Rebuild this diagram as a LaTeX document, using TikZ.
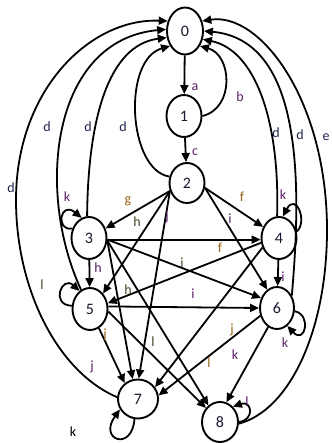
\documentclass[tikz,border=0pt]{standalone}
\usepackage{fontspec}
\setmainfont{Carlito}
\usetikzlibrary{shapes.geometric,arrows.meta}
\definecolor{labpur}{HTML}{5A1F68}
\definecolor{labnavy}{HTML}{1F2550}
\definecolor{laborg}{HTML}{9A6418}
\definecolor{labgrn}{HTML}{3A4A22}
\definecolor{digit}{HTML}{181830}
\begin{document}
\begin{tikzpicture}[x=1pt,y=-1pt,
  st/.style={ellipse,draw,fill=white,line width=1.9pt,inner sep=0pt,
    minimum width=35pt,minimum height=42pt,
    font=\fontsize{16}{16}\selectfont,text=digit},
  arr/.style={line width=1.8pt,-{Triangle[length=9pt,width=8pt]}},
  lbl/.style={inner sep=0pt,font=\fontsize{14}{14}\selectfont},
  lp/.style={lbl,text=labpur},
  ln/.style={lbl,text=labnavy},
  lo/.style={lbl,text=laborg},
  lg/.style={lbl,text=labgrn}]
\useasboundingbox (0,0) rectangle (331,443);
% states
\node[st,minimum width=36pt,minimum height=47pt] (n0) at (185,31) {0};
\node[st] (n1) at (184,116) {1};
\node[st,minimum height=40pt] (n2) at (187,183) {2};
\node[st] (n3) at (89,238) {3};
\node[st] (n4) at (279,238) {4};
\node[st] (n5) at (90,309) {5};
\node[st,minimum width=34pt] (n6) at (277,308) {6};
\node[st,minimum width=40pt,minimum height=39pt] (n7) at (138,399) {7};
\node[st,minimum width=36pt,minimum height=40pt] (n8) at (220,422) {8};
% top chain
\draw[arr] (n0) -- (n1);
\draw[arr] (n1.east) .. controls (235,108) and (232,55) .. (n0.-45);
\draw[arr] (n1) -- (n2);
% d curves on the left
\draw[arr] (n2.160) .. controls (128,170) and (122,60) .. (n0.225);
\draw[arr] (n3.95) .. controls (88,120) and (108,45) .. (n0.200);
\draw[arr] (n5.115) .. controls (35,190) and (52,40) .. (n0.175);
\draw[arr] (n7.175) .. controls (58,372) and (16,290) .. (16,200)
  .. controls (16,90) and (90,18) .. (n0.150);
% d/e curves on the right
\draw[arr] (n4.95) .. controls (280,120) and (255,50) .. (n0.-25);
\draw[arr] (n6.40) .. controls (302,180) and (302,40) .. (n0.0);
\draw[arr] (n8.-5) .. controls (290,410) and (327,330) .. (327,230)
  .. controls (327,100) and (260,12) .. (n0.30);
% self loops
\draw[arr] (n3.150) .. controls (55,232) and (60,200) .. (n3.110);
\draw[arr] (n4.20) .. controls (308,222) and (296,192) .. (n4.80);
\draw[arr] (n5.170) .. controls (50,305) and (62,275) .. (n5.120);
\draw[arr] (n6.-10) .. controls (312,315) and (305,345) .. (n6.-60);
\draw[arr] (n7.-100) .. controls (132,452) and (98,440) .. (n7.-150);
\draw[arr] (n8.0) .. controls (255,420) and (252,400) .. (n8.50);
% edges from 2
\draw[arr] (n2.205) -- (n3.30);
\draw[arr] (n2.205) -- (n5.50);
\draw[arr] (n2.205) -- (n7.88);
\draw[arr] (n2.-15) -- (n4.145);
\draw[arr] (n2.-15) -- (n6.118);
% edges from 3
\draw[arr] (n3.-5) -- (n4.185);
\draw[arr] (n3) -- (n5);
\draw[arr] (n3.-5) -- (n6.148);
\draw[arr] (n3.-8) -- (n7.105);
\draw[arr] (n3.-8) -- (n8.125);
% edges from 4
\draw[arr] (n4.195) -- (n5.18);
\draw[arr] (n4) -- (n6);
\draw[arr] (n4.210) -- (n7.35);
% edges from 5
\draw[arr] (n5.8) -- (n6.180);
\draw[arr] (n5.-65) -- (n7.130);
\draw[arr] (n5.-8) -- (n8.135);
% edges from 6
\draw[arr] (n6.205) -- (n7.10);
\draw[arr] (n6.-115) -- (n8.72);
% labels
\node[lp] (la) at (195,87) {a};
\node[lp] (lb) at (240,97) {b};
\node[lp] (lc) at (195,152) {c};
\node[ln] (ld1) at (123,127) {d};
\node[ln] (ld2) at (88,127) {d};
\node[ln] (ld3) at (47,127) {d};
\node[ln] (ld4) at (11,188) {d};
\node[ln] (ld5) at (276,133) {d};
\node[ln] (ld6) at (300,135) {d};
\node[ln] (le) at (326,137) {e};
\node[lo] (lg1) at (128,201) {g};
\node[lg] (lh1) at (137,222) {h};
\node[lp] (lj1) at (167,217) {j};
\node[lo] (lf1) at (242,197) {f};
\node[lp] (li1) at (230,219) {i};
\node[lp] (lk3) at (67,197) {k};
\node[lp] (lk4) at (283,195) {k};
\node[lo] (lf2) at (220,248) {f};
\node[lp] (lh2) at (98,268) {h};
\node[lg] (li2) at (182,263) {i};
\node[lp] (li3) at (283,277) {i};
\node[lg] (ll5) at (42,285) {l};
\node[lg] (lh3) at (128,290) {h};
\node[lp] (li4) at (193,294) {i};
\node[lo] (lj2) at (105,335) {j};
\node[lp] (lj3) at (92,367) {j};
\node[lg] (ll1) at (153,342) {l};
\node[lo] (lj4) at (232,330) {j};
\node[lp] (lk1) at (235,355) {k};
\node[lo] (ll2) at (209,363) {l};
\node[lp] (lk6) at (285,343) {k};
\node[lp] (ll8) at (247,402) {l};
\node[lbl] (lk7) at (73,432) {k};
\end{tikzpicture}
\end{document}
